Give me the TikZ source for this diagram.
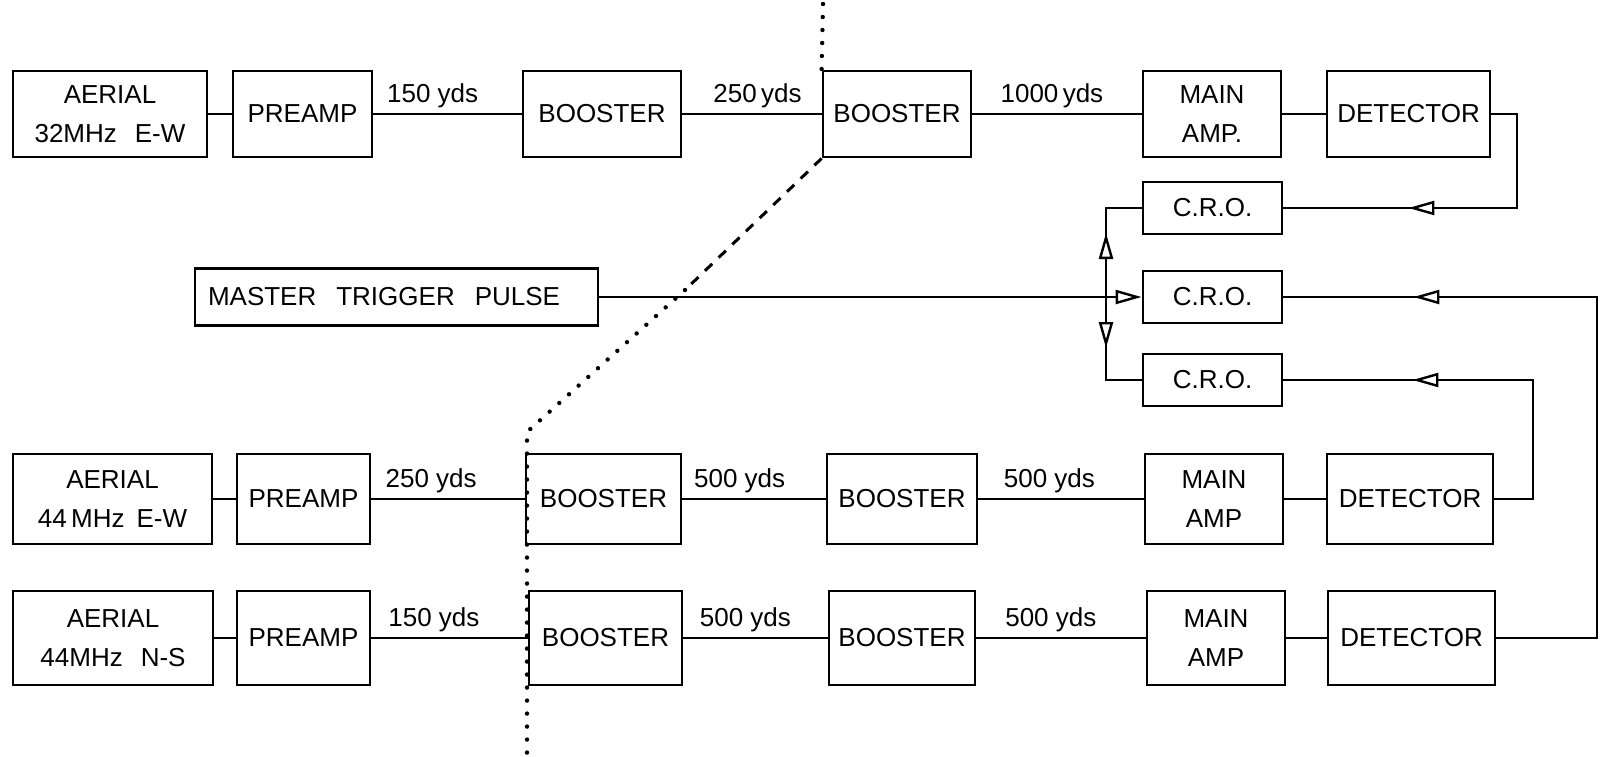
\documentclass[tikz,border=0pt]{standalone}
\usepackage{fontspec}
\setmainfont{Liberation Sans}
\usetikzlibrary{arrows.meta,decorations.markings}
\begin{document}
\begin{tikzpicture}[x=0.5pt,y=-0.5pt,
  blk/.style={draw, line width=1.4pt, inner sep=0pt, align=center, font=\fontsize{13}{19.5}\selectfont},
  wire/.style={line width=1.4pt},
  lbl/.style={above=2.5pt, inner sep=0pt, font=\fontsize{13}{15}\selectfont},
  dotln/.style={line width=2.2pt, line cap=round, dash pattern=on 0pt off 6.5pt},
  dashln/.style={line width=1.5pt, dash pattern=on 5pt off 4.5pt},
  r1/.style={minimum height=43pt},
  r3/.style={minimum height=45pt},
  r4/.style={minimum height=47pt},
  crob/.style={minimum width=69.5pt, minimum height=26pt},
  markl/.style={postaction={decorate}, decoration={markings, mark=at position #1 with {\arrow{Triangle[fill=white, length=13pt, width=7pt, line width=1.2pt]}}}}
]
\useasboundingbox (0,0) rectangle (1600,756);

% ---- row 1
\node[blk, r1, minimum width=97pt]   (A1) at (110,114)   {AERIAL\\32MHz\hspace{9pt}E-W};
\node[blk, r1, minimum width=69.5pt] (P1) at (302.5,114) {PREAMP};
\node[blk, r1, minimum width=79pt]   (B1a) at (602,114)  {BOOSTER};
\node[blk, r1, minimum width=74pt]   (B1b) at (897,114)  {BOOSTER};
\node[blk, r1, minimum width=69pt]   (M1) at (1212,114)  {MAIN\\AMP.};
\node[blk, r1, minimum width=81.5pt] (D1) at (1408.5,114) {DETECTOR};

% ---- CROs and trigger
\node[blk, crob] (C1) at (1212.5,208) {C.R.O.};
\node[blk, crob] (C2) at (1212.5,297) {C.R.O.};
\node[blk, crob] (C3) at (1212.5,380) {C.R.O.};
\node[blk, minimum height=28.5pt, text width=201.5pt, align=left] (MTP) at (396.5,297)
  {\hspace*{6.5pt}MASTER\hspace{10pt}TRIGGER\hspace{10pt}PULSE};

% ---- row 3
\node[blk, r3, minimum width=99.5pt] (A3) at (112.5,499) {AERIAL\\44\,MHz\hspace{6pt}E-W};
\node[blk, r3, minimum width=66.5pt] (P3) at (303.5,499) {PREAMP};
\node[blk, r3, minimum width=77.5pt] (B3a) at (603.5,499) {BOOSTER};
\node[blk, r3, minimum width=75pt]   (B3b) at (902,499)  {BOOSTER};
\node[blk, r3, minimum width=69pt]   (M3) at (1214,499)  {MAIN\\AMP};
\node[blk, r3, minimum width=83pt]   (D3) at (1410,499)  {DETECTOR};

% ---- row 4
\node[blk, r4, minimum width=100pt]  (A4) at (113,638)   {AERIAL\\44MHz\hspace{9pt}N-S};
\node[blk, r4, minimum width=66.5pt] (P4) at (303.5,638) {PREAMP};
\node[blk, r4, minimum width=76.5pt] (B4a) at (605.5,638) {BOOSTER};
\node[blk, r4, minimum width=73pt]   (B4b) at (902,638)  {BOOSTER};
\node[blk, r4, minimum width=69pt]   (M4) at (1216,638)  {MAIN\\AMP};
\node[blk, r4, minimum width=83.5pt] (D4) at (1411.5,638) {DETECTOR};

% ---- row connectors
\draw[wire] (A1) -- (P1);
\draw[wire] (P1) -- node[lbl, pos=0.40] {150 yds} (B1a);
\draw[wire] (B1a) -- node[lbl, pos=0.54] {250\,yds} (B1b);
\draw[wire] (B1b) -- node[lbl, pos=0.47] {1000\,yds} (M1);
\draw[wire] (M1) -- (D1);

\draw[wire] (A3) -- (P3);
\draw[wire] (P3) -- node[lbl, pos=0.39] {250 yds} (B3a);
\draw[wire] (B3a) -- node[lbl, pos=0.40] {500 yds} (B3b);
\draw[wire] (B3b) -- node[lbl, pos=0.43] {500 yds} (M3);
\draw[wire] (M3) -- (D3);

\draw[wire] (A4) -- (P4);
\draw[wire] (P4) -- node[lbl, pos=0.40] {150 yds} (B4a);
\draw[wire] (B4a) -- node[lbl, pos=0.43] {500 yds} (B4b);
\draw[wire] (B4b) -- node[lbl, pos=0.44] {500 yds} (M4);
\draw[wire] (M4) -- (D4);

% ---- detector returns to CROs
\coordinate (k1) at (1517,208);
\coordinate (k3) at (1533,380);
\coordinate (k4) at (1597,297);
\draw[wire, markl=-62.5pt] (D1.east) -| (k1) -- (C1.east);
\draw[wire, markl=-64.5pt] (D3.east) -| (k3) -- (C3.east);
\draw[wire, markl=-65pt]   (D4.east) -| (k4) -- (C2.east);

% ---- trigger distribution
\coordinate (J) at (1106,297);
\draw[wire, -{Triangle[fill=white, length=13pt, width=7pt, line width=1.2pt]}] (MTP.east) -- (C2.west);
\draw[wire, markl=32pt]   (J) |- (C1.west);
\draw[wire, markl=25.5pt] (J) |- (C3.west);

% ---- boundary line
\coordinate (dtop) at (823,4);
\coordinate (dmid) at (685,290);
\coordinate (dbend) at (527,432);
\coordinate (dbot) at (527,754);
\draw[dotln] (dtop) -- (B1b.north west);
\draw[dashln] (B1b.south west) -- (dmid);
\draw[dotln] (dmid) -- (dbend) -- (dbot);
\end{tikzpicture}
\end{document}
